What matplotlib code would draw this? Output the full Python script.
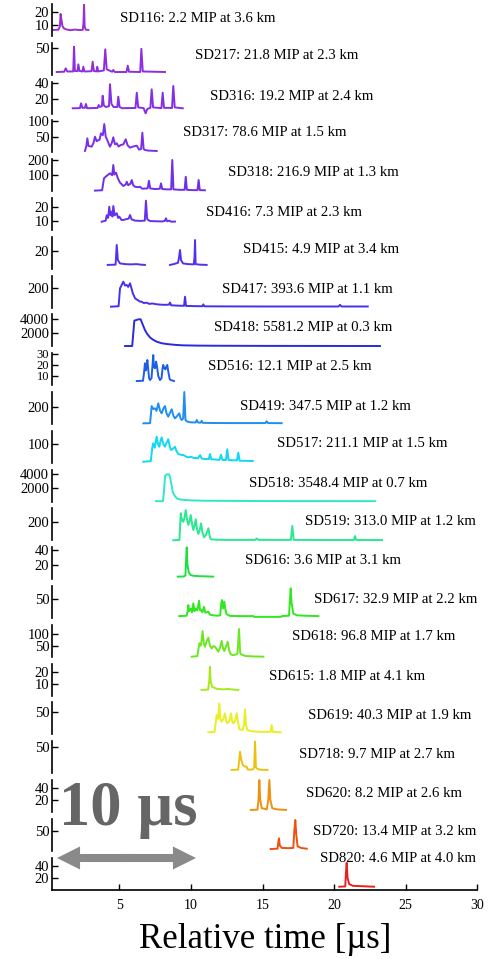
import numpy as np
import matplotlib.pyplot as plt
from matplotlib.patches import FancyArrowPatch

plt.rcParams["font.family"] = "serif"
plt.rcParams["font.serif"] = ["Liberation Serif", "DejaVu Serif"]

NAN = float("nan")

# ----------------------------------------------------------
# Station summary
# ----------------------------------------------------------

stations = ["SD116", "SD217", "SD316", "SD317", "SD318", "SD416", "SD415",
            "SD417", "SD418", "SD516", "SD419", "SD517", "SD518", "SD519",
            "SD616", "SD617", "SD618", "SD615", "SD619", "SD718", "SD620",
            "SD720", "SD820"]

mip = [2.2, 21.8, 19.2, 78.6, 216.9, 7.3, 4.9, 393.6, 5581.2, 12.1, 347.5,
       211.1, 3548.4, 313.0, 3.6, 32.9, 96.8, 1.8, 40.3, 9.7, 8.2, 13.4, 4.6]

dist_km = [3.6, 2.3, 2.4, 1.5, 1.3, 2.3, 3.4, 1.1, 0.3, 2.5, 1.2, 1.5, 0.7,
           1.2, 3.1, 2.2, 1.7, 4.1, 1.9, 2.7, 2.6, 3.2, 4.0]

# ----------------------------------------------------------
# Waveforms: (relative time [us], signal)
# ----------------------------------------------------------

SD116 = [(0.39, 6.2), (0.75, 6.4), (0.85, 9.0), (0.90, 18.5), (0.95, 15.0),
         (1.02, 9.5), (1.12, 7.5), (1.3, 6.6), (1.6, 6.0), (1.9, 6.5),
         (2.2, 6.1), (2.45, 6.3), (2.50, 12.0), (2.54, 25.5), (2.58, 9.0),
         (2.65, 6.4), (2.84, 6.2)]

SD217 = [(0.63, 5), (1.15, 5.5), (1.26, 12), (1.36, 6), (1.78, 6), (1.84, 53),
         (1.90, 7), (2.08, 6.5), (2.14, 19.6), (2.22, 7), (2.42, 6), (2.49, 15),
         (2.56, 6), (3.06, 6.5), (3.14, 24.5), (3.22, 7), (3.40, 6), (3.46, 15),
         (3.53, 6), (3.92, 8), (4.02, 48), (4.12, 10), (4.50, 5.5), (4.58, 8.8),
         (4.68, 5), (5.50, 5), (5.59, 17), (5.68, 5.5), (6.46, 5), (6.54, 49),
         (6.64, 6), (8.19, 5)]

SD316 = [(1.75, 8.4), (2.25, 8.6), (2.33, 14.6), (2.42, 9), (2.6, 9), (2.67, 13.8),
         (2.75, 8.5), (3.48, 8.8), (3.56, 12.5), (3.64, 10), (3.78, 11),
         (3.84, 24.1), (3.92, 12), (4.05, 10), (4.28, 11), (4.35, 38.4), (4.45, 14),
         (4.6, 10), (4.86, 10), (4.93, 22.9), (5.02, 10), (5.2, 8.5), (6.13, 8.8),
         (6.22, 27.9), (6.32, 9.5), (6.7, 8.5), (6.84, 2), (6.95, 7.5), (7.17, 9),
         (7.26, 32.1), (7.36, 9.5), (7.94, 8.6), (8.03, 27.9), (8.12, 9),
         (8.68, 8.8), (8.77, 36.3), (8.87, 9.5), (9.43, 8.4)]

SD317 = [(2.60, 3.6), (2.70, 20), (2.77, 44.8), (2.85, 20), (3.07, 17.5),
         (3.20, 30), (3.30, 50), (3.42, 35), (3.53, 39), (3.62, 40), (3.72, 61),
         (3.85, 55), (3.95, 91), (4.05, 50), (4.16, 39), (4.28, 25), (4.35, 17.5),
         (4.48, 30), (4.58, 48), (4.70, 25), (4.82, 28.5), (4.95, 18), (5.10, 23),
         (5.28, 25), (5.45, 41.5), (5.58, 22), (5.75, 14.3), (5.95, 18),
         (6.22, 20.8), (6.38, 8), (6.52, 10), (6.61, 63), (6.70, 10), (6.79, 6.8),
         (7.0, 5), (7.61, 3.6)]

SD318 = [(3.30, 0), (3.80, 2), (3.93, 80), (4.10, 95), (4.35, 113), (4.50, 100),
         (4.58, 167), (4.65, 105), (4.77, 117), (4.90, 80), (5.05, 52), (5.18, 40),
         (5.28, 30), (5.45, 40), (5.52, 58), (5.62, 35), (5.78, 45), (5.87, 69),
         (5.97, 35), (6.10, 25), (6.30, 22), (6.45, 25), (6.60, 12), (6.98, 15),
         (7.07, 64), (7.16, 14), (7.5, 10), (7.83, 12), (7.91, 47), (8.0, 10),
         (8.3, 8), (8.62, 8), (8.70, 200), (8.78, 8), (9.2, 5), (9.56, 5),
         (9.64, 90), (9.72, 5), (10.1, 3), (10.46, 3), (10.54, 69), (10.62, 3),
         (10.98, 2)]

SD416 = [(3.77, 9.2), (4.05, 10), (4.12, 14), (4.22, 12), (4.30, 20.4), (4.38, 14),
         (4.47, 16.7), (4.52, 13), (4.58, 20.9), (4.68, 14), (4.82, 15.5),
         (4.92, 12), (5.00, 13), (5.15, 10.5), (5.28, 10.5), (5.45, 11),
         (5.65, 11.5), (5.75, 14.2), (5.85, 11), (6.10, 10), (6.5, 9.8), (6.78, 10),
         (6.86, 24.9), (6.95, 11), (7.14, 9.7), (7.6, 9.5), (8.0, 9.4), (8.18, 9.8),
         (8.26, 11.7), (8.34, 9.5), (8.5, 10), (8.6, 9.2), (8.89, 9.3)]

SD415 = [(4.19, 9.4), (4.74, 9.6), (4.82, 24.3), (4.9, 13), (5.05, 10.5), (5.4, 10),
         (5.8, 9.8), (6.2, 10), (6.5, 9.6), (6.79, 9.4), (NAN, NAN),
         (8.54, 9.4), (8.8, 10), (9.1, 11), (9.17, 15), (9.24, 20.5), (9.31, 13),
         (9.45, 10.5), (9.8, 10), (10.2, 9.8), (10.25, 15), (10.29, 28), (10.33, 10),
         (10.6, 9.6), (11.1, 9.4)]

SD417 = [(4.42, 0), (4.95, 5), (5.05, 200), (5.18, 240), (5.28, 272), (5.40, 230),
         (5.52, 236), (5.62, 215), (5.75, 254), (5.85, 200), (5.94, 146),
         (6.02, 120), (6.10, 91), (6.30, 70), (6.45, 55), (6.56, 54), (6.70, 40),
         (6.91, 43), (7.10, 30), (7.30, 35), (7.61, 26), (7.9, 22), (8.2, 20),
         (8.46, 22), (8.54, 45), (8.62, 15), (9.0, 12), (9.3, 10), (9.52, 10),
         (9.59, 108), (9.66, 8), (10.2, 6), (10.8, 5), (10.87, 25), (10.94, 4),
         (12.5, 3), (15, 2), (18, 2), (20.3, 2), (20.41, 20), (20.52, 2),
         (22.35, 2)]

SD418 = [(5.40, 0), (5.90, 0), (5.96, 1500), (6.05, 3800), (6.20, 3900),
         (6.35, 4000), (6.49, 4000), (6.60, 3400), (6.79, 2400), (6.95, 1800),
         (7.14, 1300), (7.35, 950), (7.61, 650), (7.95, 420), (8.31, 300),
         (8.9, 170), (9.47, 100), (10.5, 60), (12, 40), (15, 20), (23.2, 0)]

SD516 = [(6.22, 5.4), (6.65, 5.6), (6.72, 12), (6.79, 21.5), (6.85, 15), (6.90, 18),
         (6.96, 24.5), (7.02, 16), (7.08, 8), (7.14, 6.3), (7.25, 8), (7.32, 20),
         (7.37, 29), (7.42, 18), (7.50, 17), (7.57, 23), (7.64, 18), (7.72, 10),
         (7.84, 6.3), (7.95, 8), (8.02, 17), (8.07, 20), (8.14, 17), (8.22, 16),
         (8.30, 19), (8.35, 20), (8.42, 14), (8.52, 7), (8.59, 6.3), (8.82, 5.4)]

SD419 = [(6.68, 0), (7.15, 2), (7.26, 208), (7.38, 170), (7.49, 181), (7.60, 150),
         (7.72, 241), (7.85, 150), (7.96, 120), (8.08, 180), (8.19, 208),
         (8.30, 120), (8.42, 80), (8.55, 130), (8.66, 169), (8.78, 90), (8.89, 60),
         (9.05, 90), (9.19, 120), (9.28, 60), (9.36, 40), (9.46, 60), (9.54, 377),
         (9.62, 40), (9.75, 20), (10.0, 12), (10.33, 10), (10.41, 40), (10.5, 10),
         (10.68, 8), (10.75, 30), (10.83, 6), (11.5, 4), (13, 3), (15.2, 3),
         (15.29, 25), (15.38, 3), (16.34, 2)]

SD517 = [(6.68, 0), (7.20, 3), (7.30, 80), (7.37, 106), (7.48, 80), (7.61, 144),
         (7.70, 100), (7.79, 86), (7.88, 120), (7.96, 140), (8.08, 100), (8.19, 86),
         (8.30, 110), (8.42, 129), (8.52, 90), (8.61, 67), (8.75, 75), (8.89, 86),
         (9.00, 60), (9.12, 44), (9.30, 40), (9.47, 38), (9.65, 30), (9.82, 25),
         (10.0, 28), (10.2, 22), (10.5, 20), (10.64, 38), (10.75, 18), (11.0, 15),
         (11.25, 15), (11.33, 44), (11.42, 14), (11.8, 12), (12.0, 10), (12.1, 40),
         (12.2, 10), (12.45, 10), (12.54, 71), (12.63, 10), (12.9, 8), (13.22, 8),
         (13.31, 52), (13.40, 6), (13.8, 5), (14.32, 4)]

SD518 = [(7.56, 0), (8.05, 0), (8.12, 1500), (8.20, 3800), (8.30, 4000),
         (8.49, 4000), (8.60, 3000), (8.73, 1400), (8.87, 800), (9.01, 430),
         (9.2, 280), (9.47, 200), (10, 120), (11, 70), (13, 40), (16, 20),
         (22.85, 10)]

SD519 = [(8.77, 0), (9.20, 3), (9.29, 300), (9.38, 220), (9.47, 206), (9.55, 250),
         (9.64, 336), (9.73, 230), (9.82, 170), (9.90, 210), (9.99, 280),
         (10.08, 180), (10.17, 114), (10.25, 160), (10.34, 233), (10.43, 120),
         (10.52, 70), (10.61, 110), (10.71, 188), (10.80, 90), (10.92, 33),
         (11.05, 60), (11.22, 133), (11.32, 40), (11.40, 10), (11.8, 6), (12.5, 4),
         (14.5, 4), (14.6, 20), (14.7, 4), (16.98, 4), (17.08, 158), (17.18, 4),
         (19, 3), (21.38, 3), (21.46, 47), (21.54, 3), (23.35, 2)]

SD616 = [(9.08, 4.4), (9.5, 4.6), (9.62, 6), (9.67, 30), (9.71, 43.5), (9.76, 20),
         (9.85, 10), (9.98, 6.5), (10.2, 5.5), (10.6, 5), (11.0, 4.8), (11.3, 4.6),
         (11.56, 4.4)]

SD617 = [(9.19, 5), (9.7, 6), (9.78, 20), (9.82, 34), (9.88, 18), (9.99, 25),
         (10.08, 15), (10.17, 38.6), (10.25, 18), (10.34, 25), (10.45, 20),
         (10.57, 45.5), (10.64, 20), (10.71, 21), (10.80, 15), (10.92, 29.6),
         (11.0, 14), (11.22, 16.4), (11.32, 9), (11.45, 7.7), (11.8, 6), (12.05, 7),
         (12.12, 40), (12.17, 47.4), (12.25, 25), (12.33, 42.9), (12.42, 20),
         (12.5, 10), (12.73, 5.5), (13.5, 5), (14.36, 5), (14.4, 3), (16.3, 3),
         (16.34, 5), (16.85, 6), (16.92, 50), (16.97, 78.3), (17.03, 40),
         (17.15, 12), (17.4, 7), (18.0, 6), (18.9, 5)]

SD618 = [(10.06, 2.7), (10.45, 5), (10.59, 60), (10.70, 50), (10.82, 112),
         (10.90, 60), (10.98, 45), (11.10, 70), (11.22, 84), (11.33, 50),
         (11.45, 38), (11.56, 48), (11.68, 45), (11.80, 35), (11.91, 24),
         (12.03, 40), (12.15, 70), (12.24, 40), (12.33, 27), (12.45, 45),
         (12.57, 67), (12.67, 30), (12.78, 13), (12.9, 10), (13.01, 10),
         (13.25, 15), (13.36, 121), (13.44, 20), (13.5, 13), (13.8, 6), (14.3, 4),
         (15.06, 2.7)]

SD615 = [(10.75, 5), (11.2, 5.3), (11.28, 12), (11.33, 24.4), (11.38, 12),
         (11.5, 7.5), (11.8, 6), (12.2, 5.5), (12.6, 5.8), (13.0, 5.3), (13.31, 5)]

SD619 = [(11.22, 5), (11.65, 6), (11.8, 43.9), (11.9, 35), (11.98, 70), (12.06, 35),
         (12.15, 29), (12.26, 35), (12.38, 47.8), (12.46, 30), (12.54, 25),
         (12.68, 30), (12.80, 47.8), (12.88, 30), (12.96, 25), (13.08, 30),
         (13.20, 47.8), (13.28, 30), (13.38, 12), (13.6, 10), (13.70, 20),
         (13.78, 56.8), (13.86, 20), (13.94, 10), (14.3, 7), (15.0, 6), (15.56, 6),
         (15.64, 21.4), (15.72, 6), (16.27, 5)]

SD718 = [(12.85, 5.2), (13.3, 6), (13.38, 25), (13.43, 40.4), (13.52, 25),
         (13.62, 15), (13.70, 13), (13.78, 11.6), (13.88, 12), (13.97, 6),
         (14.3, 6), (14.42, 10), (14.48, 59.6), (14.54, 10), (14.7, 6.5),
         (15.0, 5.5), (15.34, 5.2)]

SD620 = [(14.18, 3), (14.65, 3.5), (14.72, 20), (14.78, 54), (14.84, 20),
         (14.95, 6), (15.3, 4), (15.40, 20), (15.48, 54), (15.55, 20), (15.68, 6),
         (16.0, 4), (16.64, 3)]

SD720 = [(15.57, 3.3), (16.05, 4), (16.10, 20), (16.15, 31), (16.21, 12),
         (16.35, 6), (16.8, 5.5), (17.15, 6), (17.22, 50), (17.29, 78.6),
         (17.36, 40), (17.45, 10), (17.7, 6), (18.09, 4)]

SD820 = [(20.36, 5.5), (20.78, 6), (20.83, 30), (20.88, 45.5), (20.94, 20),
         (21.05, 10), (21.3, 7), (21.8, 6.5), (22.3, 6), (22.79, 5.5)]

traces = [SD116, SD217, SD316, SD317, SD318, SD416, SD415, SD417, SD418,
          SD516, SD419, SD517, SD518, SD519, SD616, SD617, SD618, SD615,
          SD619, SD718, SD620, SD720, SD820]

# ----------------------------------------------------------
# Panel scales and styles
# ----------------------------------------------------------

ylims = [(1.54, 26.15), (-0.3, 60.4), (1.75, 41.75), (-1, 102.9), (-4, 205),
         (3, 26.9), (6.5, 30.4), (-10, 338), (-57, 4733), (1.6, 30.7),
         (-8, 377), (-6.3, 177.6), (-60, 4720), (-1.6, 354), (1, 43.7),
         (0, 84.4), (2.3, 139), (0.3, 27), (0.3, 72.3), (-1, 60.6),
         (-0.5, 54.2), (-1.4, 81.7), (0.7, 54)]

yticks = [[10, 20], [50], [20, 40], [50, 100], [100, 200], [10, 20], [20],
          [200], [2000, 4000], [10, 20, 30], [200], [100], [2000, 4000], [200],
          [20, 40], [50], [50, 100], [10, 20], [50], [50], [20, 40], [50],
          [20, 40]]

label_x = [5.05, 10.3, 11.33, 9.45, 12.6, 11.05, 13.64, 12.17, 11.6, 11.2,
           13.43, 16.0, 14.06, 17.97, 13.78, 18.6, 17.06, 15.45, 18.18, 17.55,
           18.04, 18.53, 19.05]
label_y = [0.56, 0.59, 0.55, 0.61, 0.57, 0.56, 0.59, 0.58, 0.58, 0.57, 0.56,
           0.59, 0.58, 0.58, 0.59, 0.59, 0.62, 0.60, 0.60, 0.57, 0.59, 0.59,
           0.96]

colors = ["#9b2fd6", "#8f2ee0", "#862ee6", "#7c2ee8", "#702ee8", "#6430ec",
          "#5530ee", "#4630ee", "#2a2ae0", "#1e5ee6", "#1e8ef0", "#10d8f0",
          "#30e8c8", "#28e890", "#20e040", "#30e820", "#6ce820", "#a8e820",
          "#e8f020", "#f0c010", "#f09010", "#f05010", "#e82020"]

# figure geometry in pixels
W, H = 491, 959
LEFT, RIGHT = 52, 477.3
TOP0, STEP, PANEL_H = 4, 38.8, 32

fig = plt.figure(figsize=(W / 100, H / 100), dpi=100)

for i, name in enumerate(stations):
    top = TOP0 + STEP * i
    ax = fig.add_axes([LEFT / W, 1 - (top + PANEL_H) / H,
                       (RIGHT - LEFT) / W, PANEL_H / H])
    ax.patch.set_visible(False)

    t, v = np.array(traces[i], dtype=float).T
    ax.plot(t, v, color=colors[i], lw=1.4, clip_on=False)

    ax.set_xlim(0.3, 30)
    ax.set_ylim(*ylims[i])
    ax.set_yticks(yticks[i])
    # three labels squeezed into one short panel
    ysize = 9 if len(yticks[i]) > 2 else 10.5
    ax.tick_params(axis="y", direction="in", length=4, width=1.0,
                   labelsize=ysize, pad=2)

    for side in ["top", "right"]:
        ax.spines[side].set_visible(False)
    ax.spines["left"].set_linewidth(1.2)

    if i < len(stations) - 1:
        ax.spines["bottom"].set_visible(False)
        ax.set_xticks([])
    else:
        ax.spines["bottom"].set_linewidth(1.2)
        ax.set_xticks([5, 10, 15, 20, 25, 30])
        ax.tick_params(axis="x", direction="in", length=4, width=1.0,
                       labelsize=10, pad=7)

    ax.text(label_x[i], label_y[i],
            f"{name}: {mip[i]:.1f} MIP at {dist_km[i]:.1f} km",
            transform=ax.get_xaxis_transform(),
            ha="left", va="center", fontsize=10.6)

fig.text(265 / W, 1 - 940 / H, "Relative time [µs]",
         ha="center", va="center", fontsize=25)

# 10 us scale bar
fig.text(59 / W, 1 - 825 / H, "10 µs", ha="left", va="baseline",
         fontsize=45, fontweight="bold", color="#666666")

ARROW_Y = 1 - 858 / H
x_mid = (57 + 196) / 2
for end_x, start_x in [(57, x_mid + 4), (196, x_mid - 4)]:
    fig.patches.append(FancyArrowPatch(
        (start_x / W, ARROW_Y), (end_x / W, ARROW_Y),
        transform=fig.transFigure,
        arrowstyle="simple,head_length=1.66,head_width=1.66,tail_width=0.58",
        mutation_scale=10, shrinkA=0, shrinkB=0,
        color="#8a8a8a", lw=0,
    ))

fig.savefig("out.png", dpi=100)
